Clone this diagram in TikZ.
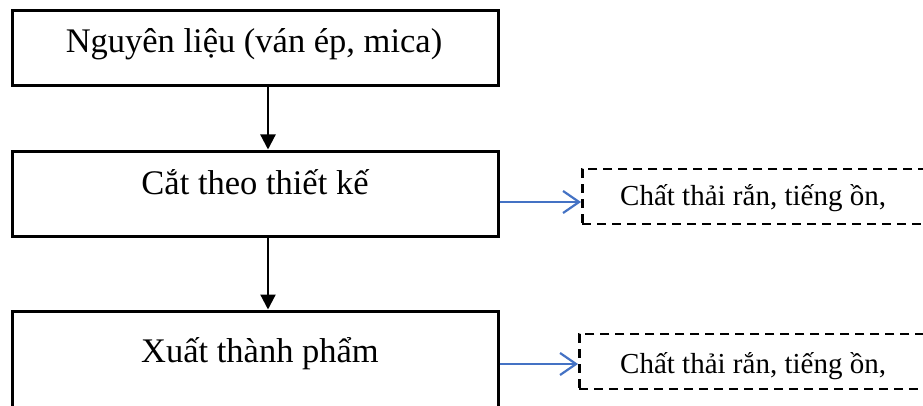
\documentclass[tikz,border=0pt]{standalone}
\usepackage{fontspec}
\setmainfont{Liberation Serif}
\usetikzlibrary{arrows.meta,calc}
\definecolor{flowblue}{HTML}{4472C4}
\begin{document}
\begin{tikzpicture}[x=1pt,y=1pt,
  stepbox/.style={draw=black,line width=3pt,rectangle,inner sep=0pt},
  wastebox/.style={draw=black,line width=2.6pt,dash pattern=on 9pt off 6pt,rectangle,inner sep=0pt},
  bigtext/.style={inner sep=0pt,anchor=base,font=\fontsize{34.5}{40}\selectfont},
  smalltext/.style={inner sep=0pt,anchor=base west,font=\fontsize{29}{34}\selectfont},
  mainflow/.style={line width=2.2pt,-{Triangle[width=15pt,length=15pt]}},
  sideflow/.style={draw=flowblue,line width=2.2pt,-{Straight Barb[width=22pt,length=16pt,line width=2.2pt]}}]
\useasboundingbox (0,0) rectangle (923,405);
\clip (0,0) rectangle (923,405);

% process steps
\node[stepbox,minimum width=486pt,minimum height=75pt] (b1) at (255,356.5) {};
\node[stepbox,minimum width=486pt,minimum height=85pt] (b2) at (255,211.5) {};
\node[stepbox,minimum width=486pt,minimum height=140pt] (b3) at (255,24) {};

\node[bigtext] (t1) at (254,352) {Nguyên liệu (ván ép, mica)};
\node[bigtext] (t2) at (255,211) {Cắt theo thiết kế};
\node[bigtext] (t3) at (260,43) {Xuất thành phẩm};

% waste outputs
\node[wastebox,minimum width=370pt,minimum height=55pt,anchor=west] (d1) at (581,208.5) {};
\node[wastebox,minimum width=370pt,minimum height=55pt,anchor=west] (d2) at (578,43.5) {};
\node[smalltext] (w1) at (620,200) {Chất thải rắn, tiếng ồn,};
\node[smalltext] (w2) at (620,32) {Chất thải rắn, tiếng ồn,};

% connectors
\coordinate (ax) at (268,0);
\coordinate (ay1) at (0,203);
\coordinate (ay2) at (0,41);
\draw[mainflow] (b1.south -| ax) -- (b2.north -| ax);
\draw[mainflow] (b2.south -| ax) -- (b3.north -| ax);
\draw[sideflow] (b2.east |- ay1) -- (d1.west |- ay1);
\draw[sideflow] (b3.east |- ay2) -- (d2.west |- ay2);
\end{tikzpicture}
\end{document}
